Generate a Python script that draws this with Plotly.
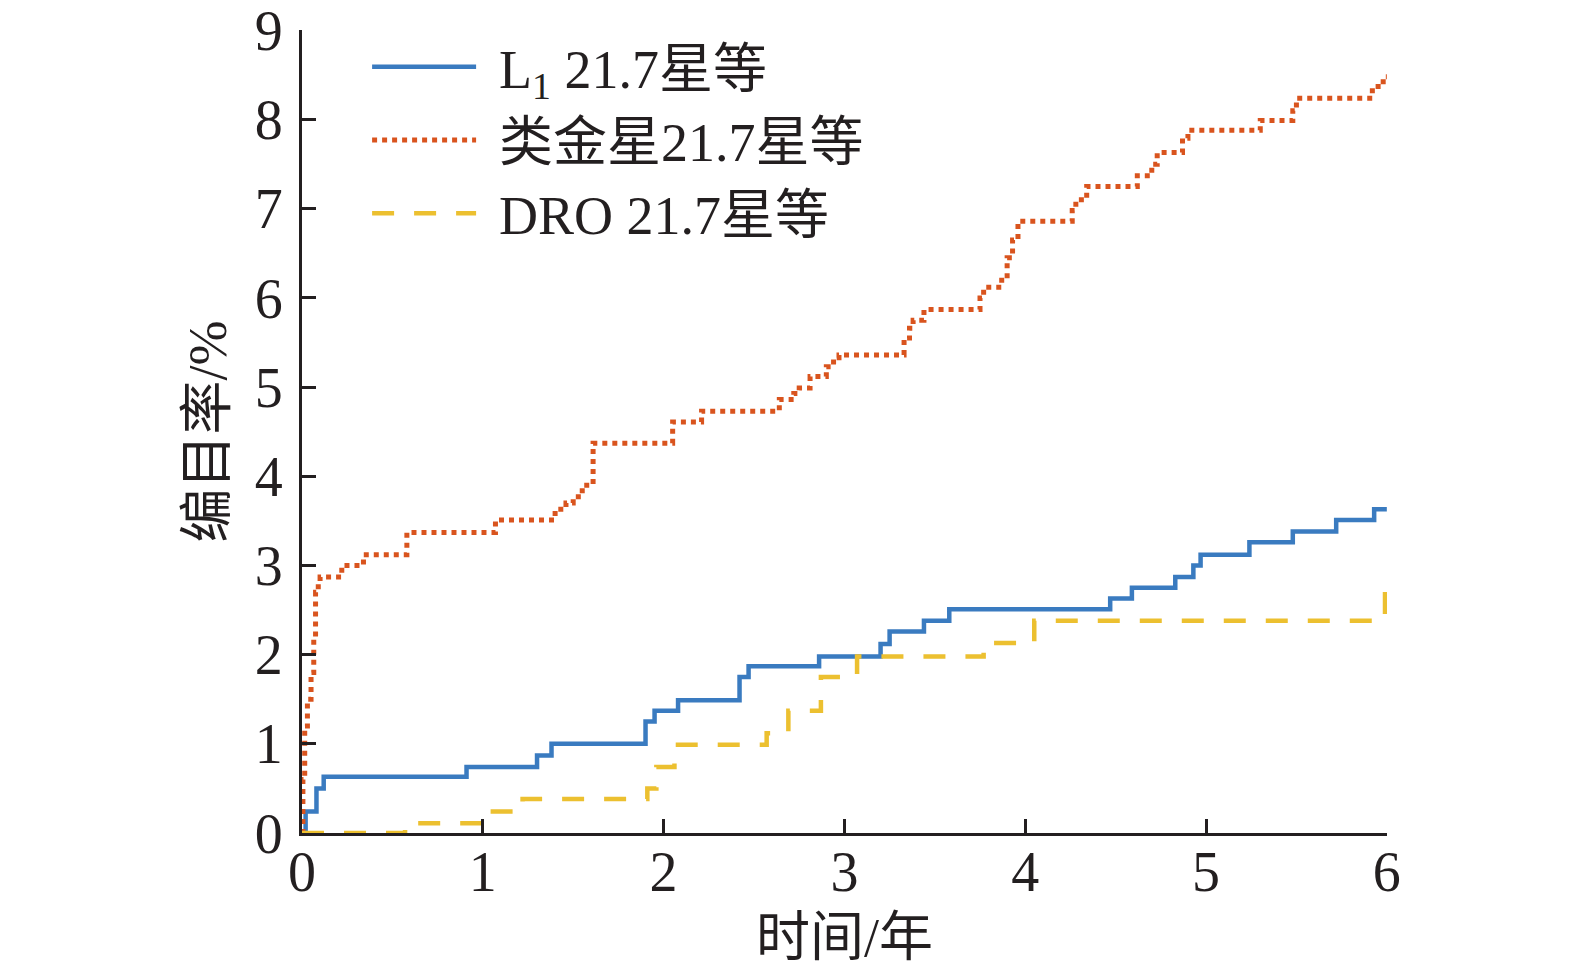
import plotly.graph_objects as go

# step data: (time in years, catalogue rate in %)
l1_t = [0, 0.02, 0.08, 0.12, 0.91, 1.30, 1.38, 1.90, 1.95, 2.08, 2.42, 2.47,
        2.86, 3.20, 3.25, 3.44, 3.58, 4.47, 4.59, 4.83, 4.93, 4.97, 5.24,
        5.48, 5.72, 5.93, 6.0]
l1_v = [0, 0.24, 0.50, 0.63, 0.74, 0.87, 1.00, 1.25, 1.37, 1.49, 1.75, 1.87,
        1.98, 2.12, 2.26, 2.38, 2.51, 2.63, 2.75, 2.87, 3.00, 3.12, 3.26,
        3.38, 3.51, 3.63, 3.63]

venus_t = [0, 0.005, 0.015, 0.03, 0.05, 0.065, 0.075, 0.09, 0.10, 0.22, 0.34,
           0.58, 1.07, 1.40, 1.46, 1.50, 1.55, 1.61, 2.05, 2.21, 2.64, 2.72,
           2.75, 2.81, 2.90, 2.94, 2.97, 3.33, 3.36, 3.38, 3.44, 3.75, 3.77,
           3.87, 3.90, 3.93, 3.96, 4.26, 4.28, 4.34, 4.62, 4.70, 4.73, 4.87,
           4.90, 5.30, 5.48, 5.50, 5.92, 5.98, 6.0]
venus_v = [0, 0.6, 1.2, 1.5, 1.8, 2.2, 2.7, 2.80, 2.87, 3.00, 3.12,
           3.37, 3.51, 3.63, 3.70, 3.77, 3.90, 4.37, 4.61, 4.73, 4.86, 4.93,
           4.99, 5.12, 5.23, 5.33, 5.36, 5.55, 5.66, 5.75, 5.87, 6.00, 6.12,
           6.25, 6.45, 6.65, 6.86, 6.98, 7.10, 7.25, 7.37, 7.50, 7.63, 7.79,
           7.88, 7.99, 8.10, 8.24, 8.37, 8.48, 8.48]

dro_t = [0, 0.57, 1.02, 1.22, 1.91, 1.96, 2.06, 2.57, 2.69, 2.87, 3.07,
         3.77, 4.05, 5.97, 5.99, 6.0]
dro_v = [0, 0.11, 0.24, 0.38, 0.50, 0.74, 0.99, 1.12, 1.37, 1.75, 1.98,
         2.13, 2.38, 2.45, 2.75, 2.75]

names = ["L<sub>1</sub> 21.7星等", "类金星21.7星等", "DRO 21.7星等"]

FONT = "Liberation Serif, Times New Roman, Noto Sans CJK SC"
AXIS_COLOR = "#231f20"
GAP = "\u00a0\u200a"  # room between the legend sample and its text


def catalogue_rate():
    fig = go.Figure()
    fig.add_trace(go.Scatter(
        x=l1_t, y=l1_v, name=GAP + names[0], mode="lines",
        line=dict(color="#3a7bc0", width=4.5, shape="hv")))
    fig.add_trace(go.Scatter(
        x=venus_t, y=venus_v, name=GAP + names[1], mode="lines",
        line=dict(color="#d9541e", width=5, shape="hv", dash="5px,5px")))
    fig.add_trace(go.Scatter(
        x=dro_t, y=dro_v, name=GAP + names[2], mode="lines",
        line=dict(color="#ecc030", width=4.5, shape="hv", dash="22px,20px")))

    axis_common = dict(
        showline=True, linewidth=3, linecolor=AXIS_COLOR,
        ticks="inside", ticklen=14, tickwidth=3, tickcolor=AXIS_COLOR,
        showgrid=False, zeroline=False, dtick=1, automargin=False,
        ticklabeloverflow="allow",
        tickfont=dict(family=FONT, size=56, color=AXIS_COLOR),
    )
    fig.update_xaxes(range=[0, 6.001], ticklabelstandoff=-12, title=dict(
        text="时间/年", font=dict(family=FONT, size=54, color=AXIS_COLOR),
        standoff=22), **axis_common)
    fig.update_yaxes(range=[0, 9.005], ticklabelstandoff=5, title=dict(
        text="编目率/%", font=dict(family=FONT, size=54, color=AXIS_COLOR),
        standoff=11), **axis_common)

    # page body keeps an 8px margin, so the figure is a bit smaller than the window
    fig.update_layout(
        width=1559, height=960,
        margin=dict(l=294, r=180, t=22, b=135),
        plot_bgcolor="white", paper_bgcolor="white",
        font=dict(family=FONT, color=AXIS_COLOR),
        legend=dict(
            x=0.06, y=1.006, xanchor="left", yanchor="top",
            bgcolor="rgba(0,0,0,0)", itemwidth=104,
            font=dict(family=FONT, size=54, color=AXIS_COLOR),
            tracegroupgap=0,
        ),
    )
    return fig


if __name__ == "__main__":
    fig = catalogue_rate()
    fig.write_html("out.html")
